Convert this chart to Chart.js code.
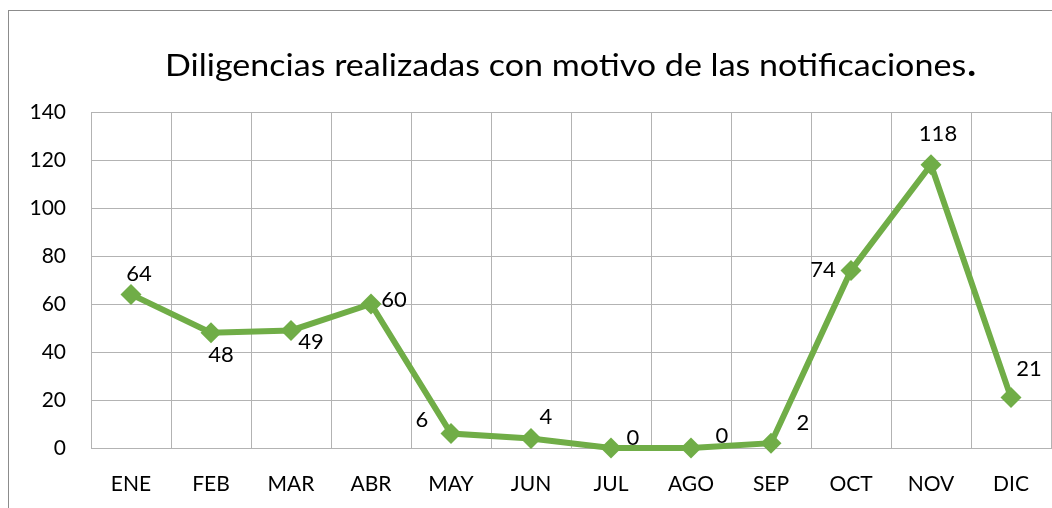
<!DOCTYPE html>
<html><head><meta charset="utf-8">
<script src="https://cdn.jsdelivr.net/npm/chart.js@4/dist/chart.umd.min.js"></script>
<style>
html,body{margin:0;padding:0;background:#fff;overflow:hidden;}
#wrap{position:absolute;left:0;top:0;width:1052px;height:508px;}
#frame{position:absolute;left:8px;top:10px;width:1100px;height:600px;border:1px solid #8c8c8c;box-sizing:border-box;pointer-events:none;}
</style></head>
<body>
<div id="wrap"><canvas id="c" width="1052" height="508"></canvas></div>
<div id="frame"></div>
<script>
const titleMain = 'Diligencias realizadas con motivo de las notificaciones';
const titleEnd = '.';
const categories = ['ENE','FEB','MAR','ABR','MAY','JUN','JUL','AGO','SEP','OCT','NOV','DIC'];
const values = [64,48,49,60,6,4,0,0,2,74,118,21];
const yTicks = [0,20,40,60,80,100,120,140];

// label offsets (px) relative to each point, for the data label plugin
const labelOffsets = [[8,-20],[10,22],[20,12],[23,-4],[-29,-14],[15,-21],[22,-10],[31,-12],[32,-20],[-28,0],[7,-31],[18,-29]];

const titlePlugin = {
  id:'titleDraw',
  afterDraw(chart){
    const ctx = chart.ctx;
    ctx.save();
    ctx.fillStyle = '#000';
    ctx.textBaseline = 'alphabetic';
    ctx.textAlign = 'left';
    ctx.font = '31px Lato';
    const w1 = ctx.measureText(titleMain).width;
    ctx.font = 'bold 34px Lato';
    const w2 = ctx.measureText(titleEnd).width;
    const target = 810, left = 165, base = 76;
    const sx = target / (w1 + w2);
    ctx.translate(left, base);
    ctx.scale(sx, 1);
    ctx.font = '31px Lato';
    ctx.fillText(titleMain, 0, 0);
    ctx.font = 'bold 34px Lato';
    ctx.fillText(titleEnd, w1 + 1, 0);
    ctx.restore();
  }
};

const dataLabels = {
  id:'dataLabels',
  afterDatasetsDraw(chart){
    const ctx = chart.ctx;
    const meta = chart.getDatasetMeta(0);
    ctx.save();
    ctx.font = '22px Lato';
    ctx.fillStyle = '#000';
    ctx.textAlign = 'center';
    ctx.textBaseline = 'middle';
    meta.data.forEach((pt,i)=>{
      const o = labelOffsets[i];
      ctx.fillText(String(values[i]), pt.x + o[0], pt.y + o[1]);
    });
    ctx.restore();
  }
};

new Chart(document.getElementById('c'), {
  type:'line',
  data:{
    labels:categories,
    datasets:[{
      data:values,
      borderColor:'#70AD47',
      backgroundColor:'#70AD47',
      borderWidth:6,
      pointStyle:'rectRot',
      pointRadius:10.5,
      pointHoverRadius:10.5,
      pointBorderWidth:0,
      tension:0,
      clip:false
    }]
  },
  options:{
    responsive:false,
    animation:false,
    events:[],
    layout:{autoPadding:false,padding:{left:0,right:1,top:112,bottom:0}},
    plugins:{
      legend:{display:false},
      tooltip:{enabled:false},
      title:{display:false}
    },
    scales:{
      x:{
        offset:true,
        grid:{offset:true,color:'#b3b3b3',lineWidth:1,drawTicks:false},
        border:{color:'#b3b3b3'},
        ticks:{color:'#000',font:{family:'Lato',size:21},padding:24,maxRotation:0},
        afterFit(s){s.height=60; s.paddingLeft=0; s.paddingRight=0;}
      },
      y:{
        min:0,max:140,
        afterBuildTicks(s){s.ticks = yTicks.map(v=>({value:v}));},
        grid:{color:'#b3b3b3',lineWidth:1,drawTicks:false},
        border:{color:'#b3b3b3'},
        ticks:{color:'#000',font:{family:'Lato',size:21},padding:25},
        afterFit(s){s.width=91; s.paddingTop=0; s.paddingBottom=0;}
      }
    }
  },
  plugins:[dataLabels, titlePlugin]
});
</script>
</body></html>
